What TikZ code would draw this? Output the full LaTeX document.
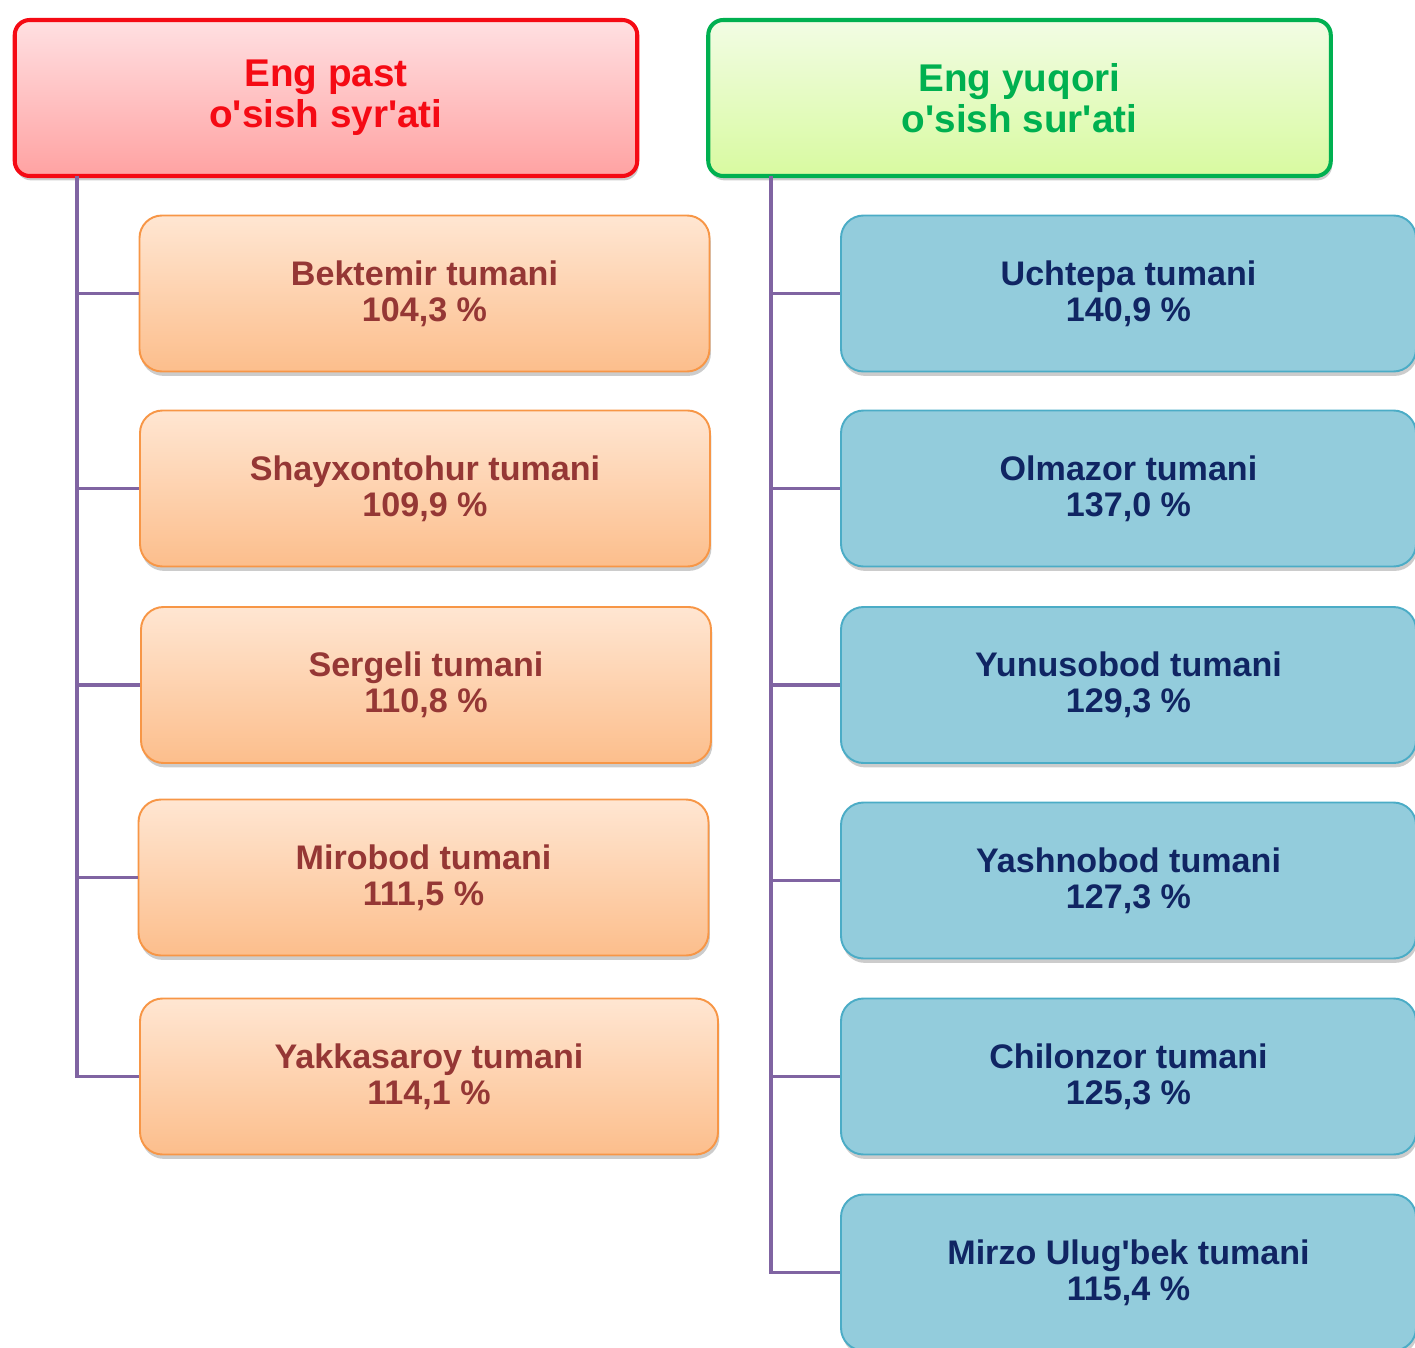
\documentclass[tikz,border=0pt]{standalone}
\usepackage{fontspec}
\setmainfont{Liberation Sans}
\usetikzlibrary{shadows}

\definecolor{lowred}{RGB}{245,10,20}
\definecolor{lowtop}{RGB}{255,224,226}
\definecolor{lowbot}{RGB}{255,162,162}
\definecolor{highgreen}{RGB}{0,176,80}
\definecolor{hightop}{RGB}{242,252,228}
\definecolor{highbot}{RGB}{216,250,160}
\definecolor{peachline}{RGB}{247,150,70}
\definecolor{peachtop}{RGB}{255,230,210}
\definecolor{peachbot}{RGB}{252,190,140}
\definecolor{peachtext}{RGB}{149,55,53}
\definecolor{blueline}{RGB}{75,172,198}
\definecolor{bluefill}{RGB}{147,204,220}
\definecolor{navytext}{RGB}{16,37,99}
\definecolor{linkpurple}{RGB}{128,100,162}

\newcommand{\apo}{\textquotesingle}

\begin{document}
\begin{tikzpicture}
        \tikzstyle{every node} = [rectangle, align=center]
        \tikzstyle{headbox} = [rounded corners=0.3cm, line width=2.3pt, minimum width=12.45cm, minimum height=3.12cm,
            font=\bfseries\fontsize{22}{23.3}\selectfont,
            drop shadow={shadow xshift=0.8pt, shadow yshift=-2.5pt, opacity=0.4}]
        \tikzstyle{lowhead} = [headbox, draw=lowred, top color=lowtop, bottom color=lowbot, text=lowred]
        \tikzstyle{highhead} = [headbox, draw=highgreen, top color=hightop, bottom color=highbot, text=highgreen]
        \tikzstyle{distbox} = [rounded corners=0.45cm, line width=1.1pt, minimum height=3.12cm,
            font=\bfseries\fontsize{19.4}{20.5}\selectfont,
            drop shadow={shadow xshift=0.8pt, shadow yshift=-2.5pt, opacity=0.4}]
        \tikzstyle{lowbox} = [distbox, draw=peachline, top color=peachtop, bottom color=peachbot, text=peachtext, minimum width=11.4cm]
        \tikzstyle{highbox} = [distbox, draw=blueline, fill=bluefill, text=navytext, minimum width=11.5cm]
        \tikzstyle{link} = [draw=linkpurple, line width=2pt]

        \useasboundingbox (0,0) rectangle (28.3,-26.94);

        \node[lowhead] (low) at (6.52,-1.96) {Eng past\\o\apo sish syr\apo ati};
        \node[highhead] (high) at (20.39,-1.96) {Eng yuqori\\o\apo sish sur\apo ati};

        \node[lowbox] (bektemir) at (8.49,-5.87) {Bektemir tumani\\104,3 \%};
        \node[lowbox] (shayx) at (8.50,-9.77) {Shayxontohur tumani\\109,9 \%};
        \node[lowbox] (sergeli) at (8.52,-13.70) {Sergeli tumani\\110,8 \%};
        \node[lowbox] (mirobod) at (8.47,-17.55) {Mirobod tumani\\111,5 \%};
        \node[lowbox, minimum width=11.56cm] (yakka) at (8.58,-21.53) {Yakkasaroy tumani\\114,1 \%};

        \node[highbox] (uchtepa) at (22.57,-5.87) {Uchtepa tumani\\140,9 \%};
        \node[highbox] (olmazor) at (22.57,-9.77) {Olmazor tumani\\137,0 \%};
        \node[highbox] (yunus) at (22.57,-13.70) {Yunusobod tumani\\129,3 \%};
        \node[highbox] (yashn) at (22.57,-17.61) {Yashnobod tumani\\127,3 \%};
        \node[highbox] (chilon) at (22.57,-21.53) {Chilonzor tumani\\125,3 \%};
        \node[highbox] (ulugbek) at (22.57,-25.45) {Mirzo Ulug\apo bek tumani\\115,4 \%};

        \coordinate (lowroot) at (1.54,-3.52);
        \coordinate (highroot) at (15.42,-3.52);
        \foreach \from/\to in {lowroot/bektemir, lowroot/shayx, lowroot/sergeli, lowroot/mirobod, lowroot/yakka,
                highroot/uchtepa, highroot/olmazor, highroot/yunus, highroot/yashn, highroot/chilon, highroot/ulugbek}
            \draw[link] (\from) |- (\to.west);
    \end{tikzpicture}
\end{document}
